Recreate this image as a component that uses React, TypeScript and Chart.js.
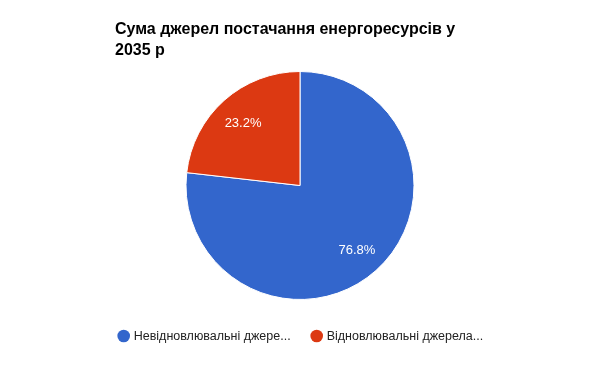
import React, { useEffect, useRef } from "react";
import { Chart, registerables } from "chart.js";

Chart.register(...registerables);

const titleLines = ["Сума джерел постачання енергоресурсів у", "2035 р"];
const categories = ["Невідновлювальні джерела енергії", "Відновлювальні джерела енергії"];
const values = [76.8, 23.2];
const colors = ["#3366cc", "#dc3912"];

function truncate(ctx: CanvasRenderingContext2D, text: string, maxW: number) {
  if (ctx.measureText(text).width <= maxW) return text;
  let t = text;
  while (t.length > 0 && ctx.measureText(t + "...").width > maxW) t = t.slice(0, -1);
  return t + "...";
}

const overlay = {
  id: "overlay",
  afterDraw(chart: any) {
    const ctx: CanvasRenderingContext2D = chart.ctx;
    ctx.save();
    // title
    ctx.fillStyle = "#000000";
    ctx.font = "bold 16px 'Liberation Sans', Arial, sans-serif";
    ctx.textAlign = "left";
    ctx.textBaseline = "alphabetic";
    titleLines.forEach((l, i) => ctx.fillText(l, 115, 33.5 + i * 21));

    // slice labels
    const meta = chart.getDatasetMeta(0);
    const total = values.reduce((a, b) => a + b, 0);
    ctx.font = "13px 'Liberation Sans', Arial, sans-serif";
    ctx.fillStyle = "#ffffff";
    ctx.textAlign = "center";
    ctx.textBaseline = "middle";
    meta.data.forEach((arc: any, i: number) => {
      const p = arc.getProps(["x", "y", "startAngle", "endAngle", "outerRadius"], true);
      const mid = (p.startAngle + p.endAngle) / 2;
      const r = p.outerRadius * 0.75;
      const pct = ((values[i] / total) * 100).toFixed(1) + "%";
      ctx.fillText(pct, p.x + Math.cos(mid) * r, p.y + Math.sin(mid) * r + 1.5);
    });

    // legend
    ctx.font = "12.5px 'Liberation Sans', Arial, sans-serif";
    ctx.textAlign = "left";
    const xs = [123.7, 316.7];
    categories.forEach((c, i) => {
      ctx.fillStyle = colors[i];
      ctx.beginPath();
      ctx.arc(xs[i], 336, 6.3, 0, Math.PI * 2);
      ctx.fill();
      ctx.fillStyle = "#222222";
      ctx.fillText(truncate(ctx, c, 158), xs[i] + 10, 336.5);
    });
    ctx.restore();
  },
};

export default function App() {
  const ref = useRef<HTMLCanvasElement>(null);
  useEffect(() => {
    const chart = new Chart(ref.current!, {
      type: "pie",
      data: {
        labels: categories,
        datasets: [
          {
            data: values,
            backgroundColor: colors,
            borderColor: "#ffffff",
            borderWidth: 1,
            radius: 114,
          } as any,
        ],
      },
      options: {
        animation: false,
        responsive: false,
        layout: { padding: 0 },
        plugins: {
          legend: { display: false },
          title: { display: false },
          tooltip: { enabled: false },
        },
      },
      plugins: [overlay],
    });
    return () => chart.destroy();
  }, []);
  return (
    <div style={{ position: "absolute", left: 0, top: 0, width: 600, height: 371, background: "#fff" }}>
      <canvas ref={ref} width={600} height={371} style={{ width: 600, height: 371 }} />
    </div>
  );
}
